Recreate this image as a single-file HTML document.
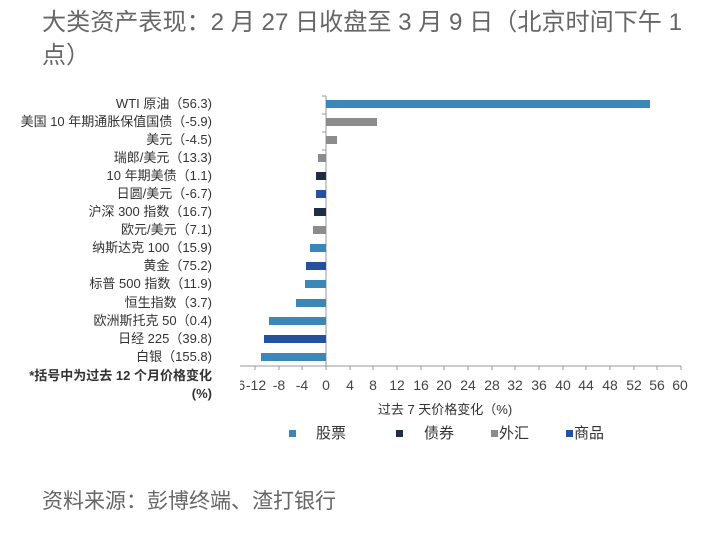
<!DOCTYPE html>
<html><head><meta charset="utf-8"><style>
body{margin:0;width:702px;height:532px;background:#fff;overflow:hidden;font-family:"Liberation Sans","Noto Sans CJK SC",sans-serif;color:#333}
</style></head><body>
<svg width="702" height="532" xmlns="http://www.w3.org/2000/svg" font-family="Liberation Sans, Noto Sans CJK SC, sans-serif">
<text x="42" y="30" font-size="24" fill="#666" textLength="640" lengthAdjust="spacingAndGlyphs">大类资产表现：2 月 27 日收盘至 3 月 9 日（北京时间下午 1</text>
<text x="42" y="63" font-size="24" fill="#666">点）</text>
<g font-size="13" fill="#333" text-anchor="end">
<text x="212" y="108">WTI 原油（56.3)</text>
<text x="212" y="126">美国 10 年期通胀保值国债（-5.9)</text>
<text x="212" y="144">美元（-4.5)</text>
<text x="212" y="162">瑞郎/美元（13.3)</text>
<text x="212" y="180">10 年期美债（1.1)</text>
<text x="212" y="198">日圆/美元（-6.7)</text>
<text x="212" y="216">沪深 300 指数（16.7)</text>
<text x="212" y="234">欧元/美元（7.1)</text>
<text x="212" y="252">纳斯达克 100（15.9)</text>
<text x="212" y="270">黄金（75.2)</text>
<text x="212" y="288">标普 500 指数（11.9)</text>
<text x="212" y="307">恒生指数（3.7)</text>
<text x="212" y="325">欧洲斯托克 50（0.4)</text>
<text x="212" y="343">日经 225（39.8)</text>
<text x="212" y="361">白银（155.8)</text>
<text x="212" y="380" font-weight="bold">*括号中为过去 12 个月价格变化</text>
<text x="212" y="398" font-weight="bold">(%)</text>
</g>
<line x1="326" y1="96" x2="326" y2="366" stroke="#999"/>
<g stroke="#999"><line x1="322" y1="96" x2="326" y2="96"/><line x1="322" y1="114" x2="326" y2="114"/><line x1="322" y1="132" x2="326" y2="132"/><line x1="322" y1="150" x2="326" y2="150"/></g>
<g>
<rect x="326" y="100" width="324" height="8" fill="#3a87b8"/>
<rect x="326" y="118" width="51" height="8" fill="#8c8c8c"/>
<rect x="326" y="136" width="11" height="8" fill="#8c8c8c"/>
<rect x="318" y="154" width="8" height="8" fill="#8c8c8c"/>
<rect x="316" y="172" width="10" height="8" fill="#1f2d45"/>
<rect x="316" y="190" width="10" height="8" fill="#2452a0"/>
<rect x="314" y="208" width="12" height="8" fill="#1f2d45"/>
<rect x="313" y="226" width="13" height="8" fill="#8c8c8c"/>
<rect x="310" y="244" width="16" height="8" fill="#3a87b8"/>
<rect x="306" y="262" width="20" height="8" fill="#2452a0"/>
<rect x="305" y="280" width="21" height="8" fill="#3a87b8"/>
<rect x="296" y="299" width="30" height="8" fill="#3a87b8"/>
<rect x="269" y="317" width="57" height="8" fill="#3a87b8"/>
<rect x="264" y="335" width="62" height="8" fill="#2452a0"/>
<rect x="261" y="353" width="65" height="8" fill="#3a87b8"/>
</g>
<line x1="240" y1="366" x2="681" y2="366" stroke="#999"/>
<g stroke="#999">
<line x1="255" y1="366" x2="255" y2="370"/><line x1="279" y1="366" x2="279" y2="370"/><line x1="302" y1="366" x2="302" y2="370"/><line x1="326" y1="366" x2="326" y2="370"/><line x1="350" y1="366" x2="350" y2="370"/><line x1="373" y1="366" x2="373" y2="370"/><line x1="397" y1="366" x2="397" y2="370"/><line x1="421" y1="366" x2="421" y2="370"/><line x1="444" y1="366" x2="444" y2="370"/><line x1="468" y1="366" x2="468" y2="370"/><line x1="492" y1="366" x2="492" y2="370"/><line x1="515" y1="366" x2="515" y2="370"/><line x1="539" y1="366" x2="539" y2="370"/><line x1="563" y1="366" x2="563" y2="370"/><line x1="586" y1="366" x2="586" y2="370"/><line x1="610" y1="366" x2="610" y2="370"/><line x1="634" y1="366" x2="634" y2="370"/><line x1="657" y1="366" x2="657" y2="370"/><line x1="681" y1="366" x2="681" y2="370"/>
</g>
<g font-size="14" fill="#444" text-anchor="middle">
<text x="235" y="390">-16</text>
<text x="256" y="390">-12</text><text x="279" y="390">-8</text><text x="302" y="390">-4</text><text x="326" y="390">0</text><text x="350" y="390">4</text><text x="373" y="390">8</text><text x="397" y="390">12</text><text x="421" y="390">16</text><text x="444" y="390">20</text><text x="468" y="390">24</text><text x="492" y="390">28</text><text x="515" y="390">32</text><text x="539" y="390">36</text><text x="563" y="390">40</text><text x="586" y="390">44</text><text x="610" y="390">48</text><text x="634" y="390">52</text><text x="657" y="390">56</text><text x="680" y="390">60</text>
</g>
<rect x="215" y="375" width="25" height="20" fill="#fff"/>
<text x="445" y="414" font-size="13" fill="#333" text-anchor="middle">过去 7 天价格变化（%)</text>
<g font-size="15" fill="#333">
<rect x="289" y="430" width="7" height="7" fill="#3a87b8"/><text x="316" y="438">股票</text>
<rect x="396" y="430" width="7" height="7" fill="#1f2d45"/><text x="424" y="438">债券</text>
<rect x="491" y="430" width="7" height="7" fill="#8c8c8c"/><text x="499" y="438">外汇</text>
<rect x="566" y="430" width="7" height="7" fill="#2452a0"/><text x="574" y="438">商品</text>
</g>
<text x="42" y="508" font-size="21" fill="#666">资料来源：彭博终端、渣打银行</text>
</svg>
</body></html>
